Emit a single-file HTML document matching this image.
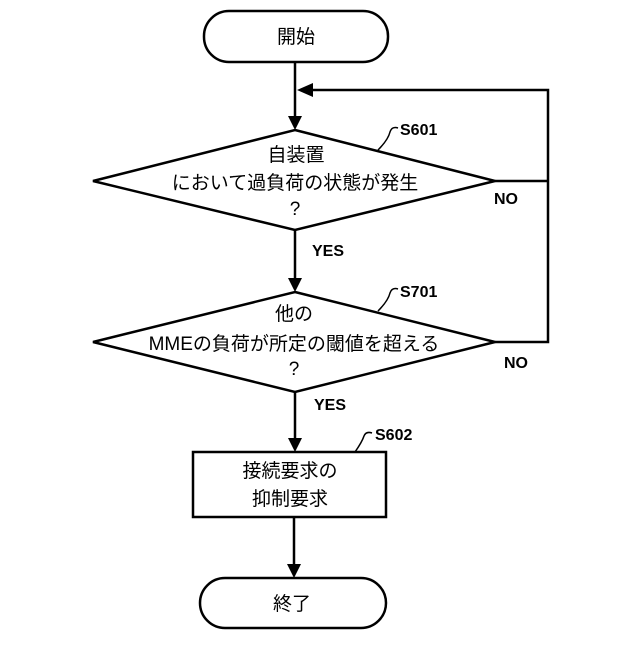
<!DOCTYPE html>
<html><head><meta charset="utf-8"><style>
body{margin:0;background:#fff}
svg text{font-family:"Liberation Sans","Noto Sans CJK JP",sans-serif;fill:#000}
.b{font-weight:bold;font-size:16px}
.j{font-size:19px}
</style></head><body>
<svg width="640" height="640" viewBox="0 0 640 640" xmlns="http://www.w3.org/2000/svg">
<g fill="none" stroke="#000" stroke-width="2.5">
<rect x="204" y="11" width="184" height="51" rx="25"/>
<rect x="200" y="578" width="186" height="50" rx="25"/>
<rect x="193" y="452" width="193" height="65"/>
<polygon points="295,130 495,181 295,230 93,181"/>
<polygon points="295,292 495,342 295,392 93,342"/>
<polyline points="295,62 295,118"/>
<polyline points="295,230 295,280"/>
<polyline points="295,392 295,440"/>
<polyline points="294,517 294,566"/>
<polyline points="495,181 548,181"/>
<polyline points="495,342 548,342 548,90 312,90"/>
</g>
<g fill="none" stroke="#000" stroke-width="1.5">
<path d="M378,150 Q388,140 390,132 Q392,126 398,128"/>
<path d="M378,311 Q388,301 390,293 Q392,287 398,289"/>
<path d="M355,452 Q362,442 364,436 Q366,431 372,433"/>
</g>
<g fill="#000">
<polygon points="288,116 302,116 295,130"/>
<polygon points="288,278 302,278 295,292"/>
<polygon points="288,438 302,438 295,452"/>
<polygon points="287,564 301,564 294,578"/>
<polygon points="297,90 313,83 313,97"/>
</g>
<text class="j" x="296" y="43" text-anchor="middle">開始</text>
<text class="j" x="296" y="161" text-anchor="middle">自装置</text>
<text class="j" x="295" y="189" text-anchor="middle">において過負荷の状態が発生</text>
<text class="j" x="295" y="215" text-anchor="middle" font-size="15">?</text>
<text class="j" x="294" y="320" text-anchor="middle">他の</text>
<text class="j" x="294" y="350" text-anchor="middle">MMEの負荷が所定の閾値を超える</text>
<text class="j" x="294" y="375" text-anchor="middle" font-size="15">?</text>
<text class="j" x="290" y="477" text-anchor="middle">接続要求の</text>
<text class="j" x="290" y="505" text-anchor="middle">抑制要求</text>
<text class="j" x="292" y="610" text-anchor="middle">終了</text>
<text class="b" x="400" y="135">S601</text>
<text class="b" x="400" y="297">S701</text>
<text class="b" x="375" y="440">S602</text>
<text class="b" x="494" y="204">NO</text>
<text class="b" x="504" y="368">NO</text>
<text class="b" x="312" y="256">YES</text>
<text class="b" x="314" y="410">YES</text>
</svg>
</body></html>
